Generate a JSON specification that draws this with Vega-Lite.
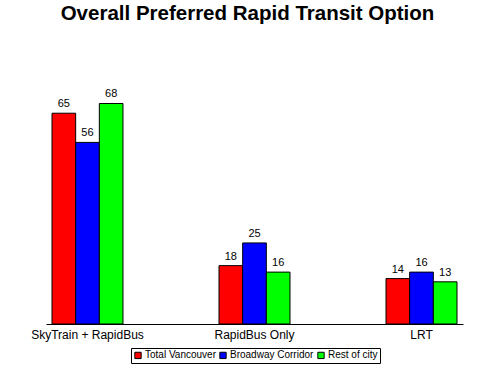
{
  "$schema": "https://vega.github.io/schema/vega-lite/v6.json",
  "autosize": "none",
  "width": 417,
  "height": 227,
  "padding": {"left": 46, "top": 97, "right": 37, "bottom": 52},
  "background": "white",
  "title": {
    "text": "Overall Preferred Rapid Transit Option",
    "font": "Liberation Sans",
    "fontSize": 20.5,
    "fontWeight": "bold",
    "color": "black",
    "anchor": "middle",
    "offset": 64,
    "dx": -7
  },
  "data": {
    "values": [
      {"option": "SkyTrain + RapidBus", "group": "Total Vancouver", "value": 65},
      {"option": "SkyTrain + RapidBus", "group": "Broadway Corridor", "value": 56},
      {"option": "SkyTrain + RapidBus", "group": "Rest of city", "value": 68},
      {"option": "RapidBus Only", "group": "Total Vancouver", "value": 18},
      {"option": "RapidBus Only", "group": "Broadway Corridor", "value": 25},
      {"option": "RapidBus Only", "group": "Rest of city", "value": 16},
      {"option": "LRT", "group": "Total Vancouver", "value": 14},
      {"option": "LRT", "group": "Broadway Corridor", "value": 16},
      {"option": "LRT", "group": "Rest of city", "value": 13}
    ]
  },
  "encoding": {
    "x": {
      "field": "option",
      "type": "nominal",
      "sort": ["SkyTrain + RapidBus", "RapidBus Only", "LRT"],
      "scale": {"paddingInner": 0.575, "paddingOuter": 0.036},
      "axis": {
        "title": null,
        "ticks": false,
        "labelAngle": 0,
        "labelFont": "Liberation Sans",
        "labelFontSize": 12,
        "labelColor": "black",
        "labelPadding": 5,
        "domainColor": "black",
        "domainWidth": 1
      }
    },
    "xOffset": {
      "field": "group",
      "type": "nominal",
      "sort": ["Total Vancouver", "Broadway Corridor", "Rest of city"]
    },
    "y": {
      "field": "value",
      "type": "quantitative",
      "scale": {"domain": [0, 70]},
      "axis": null
    }
  },
  "layer": [
    {
      "mark": {"type": "bar", "stroke": "black", "strokeWidth": 1},
      "encoding": {
        "color": {
          "field": "group",
          "type": "nominal",
          "sort": ["Total Vancouver", "Broadway Corridor", "Rest of city"],
          "scale": {
            "domain": ["Total Vancouver", "Broadway Corridor", "Rest of city"],
            "range": ["#ff0000", "#0000ff", "#00ff00"]
          },
          "legend": {
            "title": null,
            "orient": "none",
            "direction": "horizontal",
            "legendX": 85,
            "legendY": 251,
            "strokeColor": "black",
            "padding": 2,
            "symbolType": "square",
            "symbolSize": 40,
            "symbolStrokeColor": "black",
            "symbolStrokeWidth": 1,
            "symbolOffset": 0,
            "labelFont": "Liberation Sans",
            "labelFontSize": 10,
            "labelColor": "black",
            "labelOffset": 2,
            "columnPadding": 1,
            "fillColor": "white"
          }
        }
      }
    },
    {
      "mark": {"type": "text", "baseline": "bottom", "dy": -4, "font": "Liberation Sans", "fontSize": 11, "color": "black"},
      "encoding": {"text": {"field": "value", "type": "quantitative"}}
    }
  ],
  "config": {"view": {"stroke": null}}
}
